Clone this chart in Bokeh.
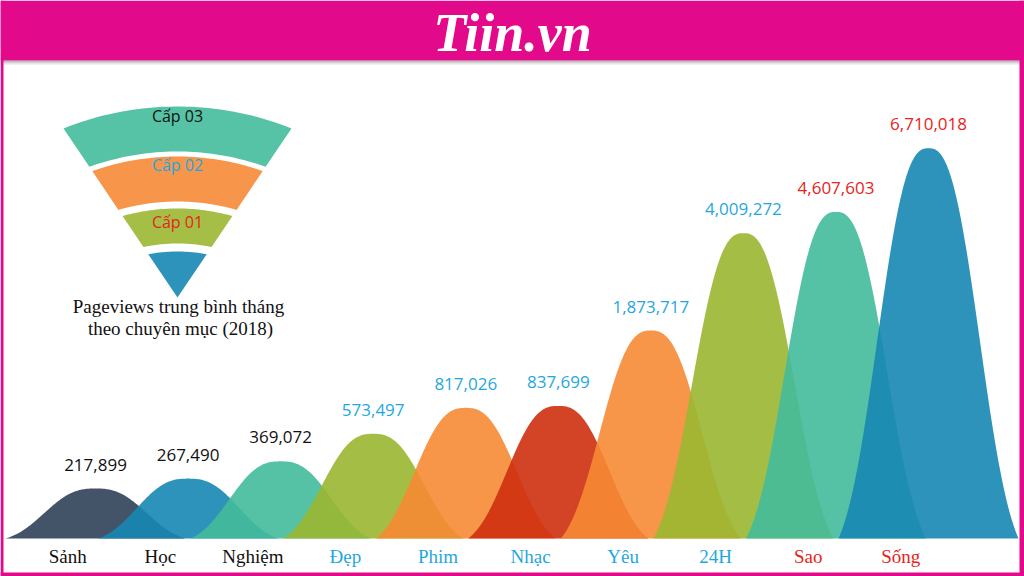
import numpy as np
from bokeh.plotting import figure
from bokeh.models import Range1d, ColumnDataSource
from bokeh.core.properties import value
from bokeh.embed import file_html
from bokeh.resources import INLINE

# ---------------- data ----------------
categories = ["Sảnh", "Học", "Nghiệm", "Đẹp", "Phim", "Nhạc", "Yêu", "24H", "Sao", "Sống"]
pageviews = [217899, 267490, 369072, 573497, 817026, 837699, 1873717, 4009272, 4607603, 6710018]
tiers = ["Cấp 03", "Cấp 03", "Cấp 03", "Cấp 02", "Cấp 02", "Cấp 02", "Cấp 02", "Cấp 02", "Cấp 01", "Cấp 01"]
legend_tiers = ["Cấp 03", "Cấp 02", "Cấp 01"]
title_lines = ["Pageviews trung bình tháng", "theo chuyên mục (2018)"]
brand = "Tiin.vn"

# ---------------- style ----------------
W, H = 1024, 576
MAGENTA = "#E3098B"
mountain_colors = ["#2F4159", "#1787B2", "#44BB9B", "#9AB731", "#F68934",
                   "#CE2F0E", "#F68934", "#9AB731", "#44BB9B", "#1787B2"]
tier_text_colors = {"Cấp 01": "#E8231A", "Cấp 02": "#1FA7E0", "Cấp 03": "#111111"}
fan_colors = ["#57C3A6", "#F7964A", "#A5BE46", "#2E93BA"]

# category scale (x) and compressive power scale (y) for the mountains
PX_PER_CAT = 92.56
FIRST_CENTER_PX = 95.0
POW = 0.4
BASE_PW = 77.6
PX_PER_PW = 0.8479
BASELINE_PX = 38.0
HALF_W = 0.972
SHAPE_S = 0.67
SHAPE_P = 2.6
LABEL_SHIFT = -0.3

p = figure(width=W, height=H, x_range=Range1d(0, W), y_range=Range1d(0, H),
           x_axis_type=None, y_axis_type=None, toolbar_location=None,
           output_backend="svg", min_border=0, outline_line_color=None,
           background_fill_color="white", border_fill_color="white")
p.extra_x_ranges = {"cat": Range1d(-FIRST_CENTER_PX / PX_PER_CAT, (W - FIRST_CENTER_PX) / PX_PER_CAT)}
p.extra_y_ranges = {"pw": Range1d(BASE_PW - BASELINE_PX / PX_PER_PW, BASE_PW + (H - BASELINE_PX) / PX_PER_PW)}

# ---------------- mountains ----------------
n = len(categories)
idx = np.arange(n, dtype=float)
pw = np.array(pageviews, dtype=float) ** POW
off = np.linspace(-HALF_W, HALF_W, 161)
g = np.exp(-(np.abs(off) / SHAPE_S) ** SHAPE_P)
g0 = np.exp(-(HALF_W / SHAPE_S) ** SHAPE_P)
prof = (g - g0) / (1 - g0)
xs = [list(idx[i] + off) for i in range(n)]
ys = [list(BASE_PW + (pw[i] - BASE_PW) * prof) for i in range(n)]
p.patches(xs, ys, fill_color=mountain_colors, fill_alpha=0.9, line_color=None,
          x_range_name="cat", y_range_name="pw")

src = ColumnDataSource(dict(
    x=idx, y=pw, xl=idx + LABEL_SHIFT, yl=[20.0] * n,
    val=[f"{v:,}" for v in pageviews], cat=categories,
    col=[tier_text_colors[t] for t in tiers]))
p.text(x="x", y="y", text="val", source=src, text_color="col",
       x_range_name="cat", y_range_name="pw", text_align="center",
       text_baseline="middle", y_offset=-24,
       text_font=value("Open Sans"), text_font_size="17px")
p.text(x="xl", y="yl", text="cat", source=src, text_color="col",
       x_range_name="cat", text_align="center", text_baseline="middle",
       text_font=value("Liberation Serif"), text_font_size="19px")

# ---------------- fan legend ----------------
TIP = (177.0, 297.0)        # screen px (y down)
ARC_C = (177.0, 412.0)      # centre of the band arcs
HALF_ANGLE = np.radians(34)
band_radii = [(306, 261), (256, 211), (204, 169), (161, None)]


def ray_hit(R, sign):
    d = np.array([sign * np.sin(HALF_ANGLE), -np.cos(HALF_ANGLE)])
    tc = np.array([TIP[0] - ARC_C[0], TIP[1] - ARC_C[1]])
    b = d @ tc
    s = -b + np.sqrt(b * b - (tc @ tc - R * R))
    return np.array(TIP) + s * d


def arc_pts(R, k=40):
    L, Rt = ray_hit(R, -1), ray_hit(R, 1)
    tl = np.arctan2(L[1] - ARC_C[1], L[0] - ARC_C[0])
    tr = np.arctan2(Rt[1] - ARC_C[1], Rt[0] - ARC_C[0])
    t = np.linspace(tl, tr, k)
    return ARC_C[0] + R * np.cos(t), ARC_C[1] + R * np.sin(t)


fxs, fys = [], []
for ro, ri in band_radii:
    ox, oy = arc_pts(ro)
    if ri is None:
        px_, py_ = np.append(ox, TIP[0]), np.append(oy, TIP[1])
    else:
        ix, iy = arc_pts(ri)
        px_, py_ = np.concatenate([ox, ix[::-1]]), np.concatenate([oy, iy[::-1]])
    fxs.append(list(px_))
    fys.append(list(H - py_))
p.patches(fxs, fys, fill_color=fan_colors, line_color=None)

p.text(x=[177] * 3, y=[H - 115, H - 164, H - 221], text=legend_tiers,
       text_color=[tier_text_colors[t] for t in legend_tiers],
       text_align="center", text_baseline="middle",
       text_font=value("Open Sans"), text_font_size="16px")
p.text(x=[178, 180], y=[H - 306, H - 328], text=title_lines, text_color="#111111",
       text_align="center", text_baseline="middle",
       text_font=value("Liberation Serif"), text_font_size="19px")

# ---------------- frame / header ----------------
p.quad(left=[0], right=[W], bottom=[H - 64], top=[H - 60], fill_color="#E4E4E4", line_color=None)
p.quad(left=[0], right=[W], bottom=[H - 62], top=[H - 60], fill_color="#BDBDBD", line_color=None)
p.quad(left=[0, 0, W - 5, 0], right=[W, 3, W, W], bottom=[H - 60, 0, 0, 0],
       top=[H, H, H, 4], fill_color=MAGENTA, line_color=None)
p.text(x=[W / 2], y=[H - 32], text=[brand], text_color="white", text_align="center",
       text_baseline="middle", text_font=value("Liberation Serif"),
       text_font_style="bold italic", text_font_size="54px")

open("out.html", "w").write(file_html(p, INLINE))
